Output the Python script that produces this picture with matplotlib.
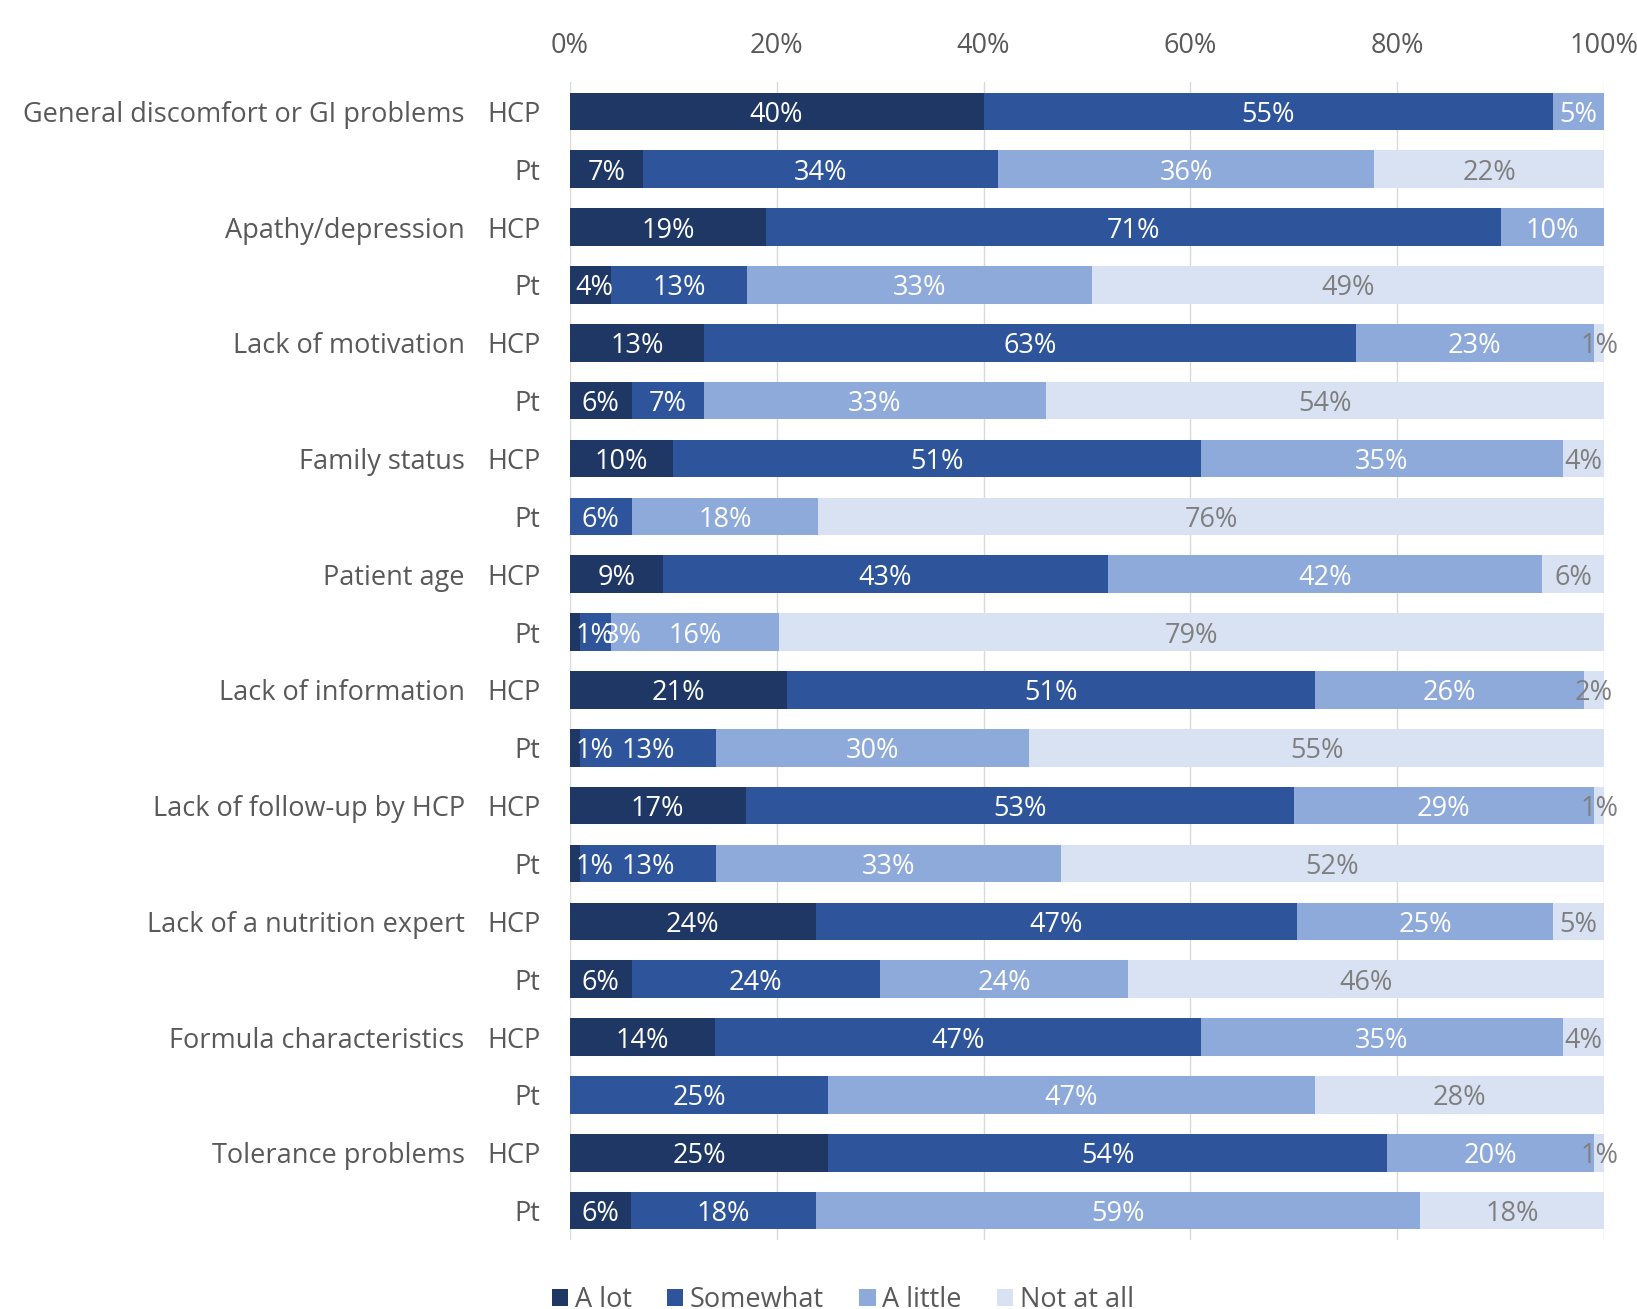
"""Stacked 100% bar chart: perceived barriers, HCP vs patient (Pt) answers."""

import matplotlib

matplotlib.use("Agg")
import matplotlib.pyplot as plt
import numpy as np

plt.rcParams["font.family"] = ["Open Sans", "DejaVu Sans"]

# Groups, top to bottom; each group has an HCP row and a Pt row.
groups = [
    "General discomfort or GI problems",
    "Apathy/depression",
    "Lack of motivation",
    "Family status",
    "Patient age",
    "Lack of information",
    "Lack of follow-up by HCP",
    "Lack of a nutrition expert",
    "Formula characteristics",
    "Tolerance problems",
]
respondents = ["HCP", "Pt"]
levels = ["A lot", "Somewhat", "A little", "Not at all"]

# Percent per row (HCP, Pt alternating), one list per answer level
a_lot = [40, 7, 19, 4, 13, 6, 10, 0, 9, 1, 21, 1, 17, 1, 24, 6, 14, 0, 25, 6]
somewhat = [55, 34, 71, 13, 63, 7, 51, 6, 43, 3, 51, 13, 53, 13, 47, 24, 47, 25, 54, 18]
a_little = [5, 36, 10, 33, 23, 33, 35, 18, 42, 16, 26, 30, 29, 33, 25, 24, 35, 47, 20, 59]
not_at_all = [0, 22, 0, 49, 1, 54, 4, 76, 6, 79, 2, 55, 1, 52, 5, 46, 4, 28, 1, 18]

colors = ["#1f3765", "#2e559b", "#8eaadb", "#d9e2f2"]
label_colors = ["white", "white", "white", "#7f7f7f"]
FS = 19.5


def main() -> None:
    raw = np.array([a_lot, somewhat, a_little, not_at_all], dtype=float)
    share = raw / raw.sum(axis=0) * 100  # Excel-style 100% stacking
    n = raw.shape[1]
    y = np.arange(n)

    fig = plt.figure(figsize=(16.37, 13.09), dpi=100)
    ax = fig.add_axes([0.348, 0.053, 0.632, 0.884])

    left = np.zeros(n)
    prev_x = np.full(n, -10.0)
    for i, lvl in enumerate(levels):
        ax.barh(y, share[i], left=left, height=0.65, color=colors[i],
                label=lvl, zorder=3)
        for j in range(n):
            if raw[i, j] > 0:
                # keep labels inside the plot area and off the previous label
                x = max(left[j] + share[i, j] / 2, 2.4, prev_x[j] + 2.7)
                ax.text(x, y[j], f"{raw[i, j]:.0f}%", ha="center",
                        va="center_baseline", fontsize=FS,
                        color=label_colors[i], zorder=4)
                prev_x[j] = x
        left += share[i]

    ax.set_ylim(n - 0.5, -0.5)
    ax.set_xlim(0, 100)
    ax.set_xticks(np.arange(0, 101, 20))
    ax.set_xticklabels([f"{v}%" for v in range(0, 101, 20)])
    ax.xaxis.tick_top()
    ax.tick_params(axis="x", length=0, pad=16, labelsize=FS, labelcolor="#595959")

    ax.set_yticks(y)
    ax.set_yticklabels([respondents[k % 2] for k in range(n)])
    ax.tick_params(axis="y", length=0, pad=21, labelsize=FS, labelcolor="#595959")
    for k, g in enumerate(groups):
        ax.text(-0.1015, 2 * k, g, transform=ax.get_yaxis_transform(),
                ha="right", va="center_baseline", fontsize=FS, color="#595959")

    ax.grid(axis="x", color="#d9d9d9", lw=1, zorder=0)
    for s in ax.spines.values():
        s.set_visible(False)

    fig.legend(loc="lower center", bbox_to_anchor=(0.515, -0.004), ncol=4,
               frameon=False, fontsize=FS, handlelength=0.6, handleheight=0.6,
               handletextpad=0.25, columnspacing=1.3, labelcolor="#595959",
               borderpad=0, borderaxespad=0)

    fig.savefig("out.png", dpi=100)
    plt.close(fig)


if __name__ == "__main__":
    main()
